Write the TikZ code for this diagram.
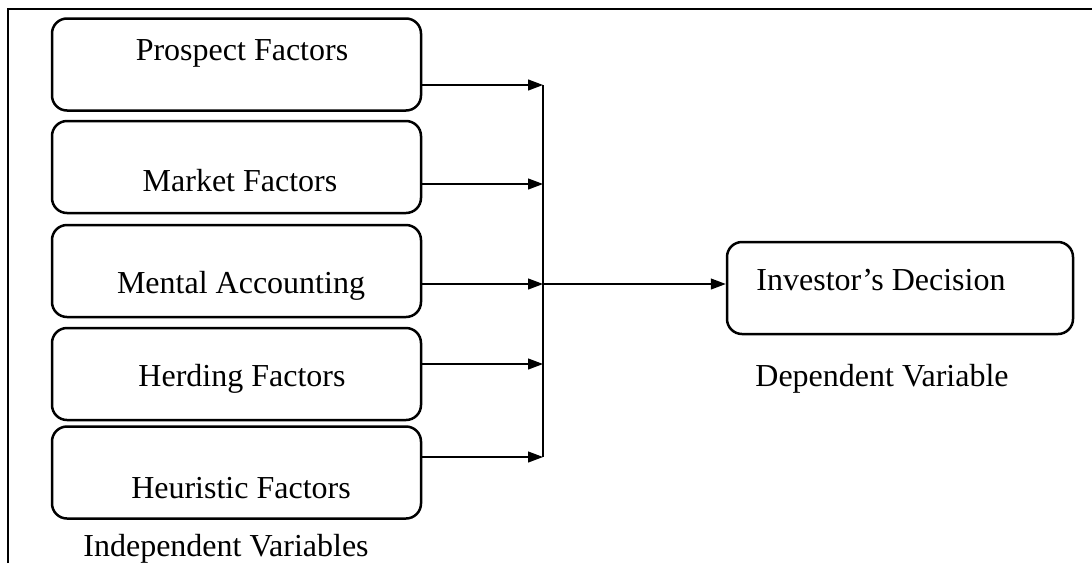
\documentclass[tikz,border=0pt]{standalone}
\usepackage{fontspec}
\setmainfont{Liberation Serif}
\usetikzlibrary{arrows.meta}
\begin{document}
\begin{tikzpicture}[x=1pt,y=-1pt,
  factor/.style={draw, line width=2.5pt, rounded corners=15pt, minimum width=369pt, minimum height=92pt, inner sep=0pt},
  lbl/.style={font=\fontsize{32}{38}\selectfont, inner sep=0pt, anchor=base},
  arr/.style={line width=1.2pt, -{Triangle[length=15pt,width=11pt]}},
  conn/.style={line width=1.2pt},
  frame/.style={line width=2pt}]
\useasboundingbox (0,0) rectangle (1092,563);
% frame
\coordinate (fTL) at (8,9);
\coordinate (fTR) at (1092,9);
\coordinate (fBL) at (8,563);
\draw[frame] (fBL) -- (fTL) -- (fTR);
% boxes
\node[factor] (b1) at (236.5,64.5) {};
\node[factor] (b2) at (236.5,167) {};
\node[factor] (b3) at (236.5,271) {};
\node[factor] (b4) at (236.5,374) {};
\node[factor] (b5) at (236.5,472.5) {};
\node[lbl] (t1) at (242,60) {Prospect Factors};
\node[lbl] (t2) at (240,191) {Market Factors};
\node[lbl] (t3) at (241,293) {Mental Accounting};
\node[lbl] (t4) at (242,386) {Herding Factors};
\node[lbl] (t5) at (241,498) {Heuristic Factors};
\node[lbl] (iv) at (226,556) {Independent Variables};
% dependent
\node[factor, minimum width=346pt] (inv) at (900,288) {};
\node[lbl] (tinv) at (881,290) {Investor’s Decision};
\node[lbl] (dv) at (882,386) {Dependent Variable};
% connectors
\coordinate (a1) at (543,85);
\coordinate (a2) at (543,184);
\coordinate (a3) at (543,284);
\coordinate (a4) at (543,364);
\coordinate (a5) at (543,457);
\draw[arr] (b1.east |- a1) -- (a1);
\draw[arr] (b2.east |- a2) -- (a2);
\draw[arr] (b3.east |- a3) -- (a3);
\draw[arr] (b4.east |- a4) -- (a4);
\draw[arr] (b5.east |- a5) -- (a5);
\draw[conn] (a1) -- (a5);
\draw[arr] (a3) -- (inv.west |- a3);
\end{tikzpicture}
\end{document}
